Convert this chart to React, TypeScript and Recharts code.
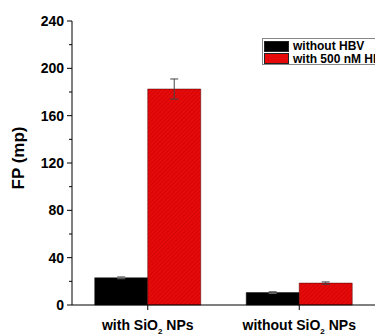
import { BarChart, Bar, XAxis, YAxis, ErrorBar } from "recharts";

const groupPrefix = ["with SiO", "without SiO"];
const groupSuffix = [" NPs", " NPs"];
const withoutHbv = [23, 10.5];
const withoutHbvErr = [0.8, 0.8];
const withHbv = [182.5, 18.5];
const withHbvErr = [8.5, 1];
const yTicks = [0, 20, 40, 60, 80, 100, 120, 140, 160, 180, 200, 220, 240];

const data = groupPrefix.map((p, i) => ({
  name: p + "2" + groupSuffix[i],
  prefix: p,
  suffix: groupSuffix[i],
  a: withoutHbv[i],
  aErr: withoutHbvErr[i],
  b: withHbv[i],
  bErr: withHbvErr[i],
}));

const font = "'Liberation Sans', Arial, sans-serif";

function CategoryTick(props: any) {
  const { x, y, payload, index } = props;
  const d = data[index] || data.find((r) => r.name === payload.value);
  return (
    <g>
      <line x1={x} y1={y - 5} x2={x} y2={y} stroke="#000" />
      <text x={x} y={y + 20} textAnchor="middle" fontFamily={font} fontWeight="bold" fontSize={14} fill="#000">
        <tspan>{d.prefix}</tspan>
        <tspan fontSize={8} dy={4}>2</tspan>
        <tspan dy={-4}>{d.suffix}</tspan>
      </text>
    </g>
  );
}

function ValueTick(props: any) {
  const { x, y, payload } = props;
  const major = payload.value % 40 === 0;
  return (
    <g>
      <line x1={x - (major ? 5 : 3)} y1={y} x2={x} y2={y} stroke="#000" />
      {major && (
        <text x={x - 8} y={y + 5} textAnchor="end" fontFamily={font} fontWeight="bold" fontSize={14} fill="#000">
          {payload.value}
        </text>
      )}
    </g>
  );
}

const legendItems = [
  { label: "without HBV", fill: "#000" },
  { label: "with 500 nM HBV", fill: "#e80a0a" },
];

export default function App() {
  return (
    <div style={{ position: "fixed", left: 0, top: 0, width: 375, height: 335, background: "#fff", overflow: "hidden" }}>
      <BarChart
        width={375}
        height={335}
        data={data}
        margin={{ top: 21, right: 0, left: 0, bottom: 0 }}
        barCategoryGap="15%"
        barGap={0}
      >
        <defs>
          <pattern id="hatchRed" width={3} height={3} patternUnits="userSpaceOnUse" patternTransform="rotate(45)">
            <rect width={3} height={3} fill="#e80a0a" />
            <line x1={0} y1={0} x2={0} y2={3} stroke="#b00000" strokeWidth={0.8} />
          </pattern>
        </defs>
        <XAxis
          dataKey="name"
          height={30}
          axisLine={{ stroke: "#000", strokeWidth: 1 }}
          tickLine={false}
          tickSize={5}
          tickMargin={0}
          tick={<CategoryTick />}
          interval={0}
        />
        <YAxis
          width={72}
          domain={[0, 240]}
          ticks={yTicks}
          interval={0}
          tickSize={0}
          tickMargin={0}
          axisLine={{ stroke: "#000", strokeWidth: 1 }}
          tickLine={false}
          tick={<ValueTick />}
          label={{
            content: () => (
              <text
                x={24}
                y={158}
                transform="rotate(-90, 24, 158)"
                textAnchor="middle"
                fontFamily={font}
                fontWeight="bold"
                fontSize={17}
                fill="#000"
              >
                FP (mp)
              </text>
            ),
          }}
        />
        <Bar dataKey="a" name="without HBV" fill="#000" stroke="#111" strokeWidth={0.5} isAnimationActive={false}>
          <ErrorBar dataKey="aErr" width={4} stroke="#666" strokeWidth={1} />
        </Bar>
        <Bar dataKey="b" name="with 500 nM HBV" fill="url(#hatchRed)" stroke="#400" strokeWidth={0.5} isAnimationActive={false}>
          <ErrorBar dataKey="bErr" width={4} stroke="#444" strokeWidth={1} />
        </Bar>
      </BarChart>
      <div
        style={{
          position: "absolute",
          left: 262,
          top: 38,
          width: 130,
          height: 27,
          border: "1px solid #888",
          background: "#fff",
          boxSizing: "border-box",
          padding: "1px 0 0 1px",
        }}
      >
        {legendItems.map((it) => (
          <div key={it.label} style={{ display: "flex", alignItems: "center", height: 12.5 }}>
            <div style={{ width: 25, height: 11, background: it.fill, border: "0.5px solid #222", boxSizing: "border-box" }} />
            <span
              style={{
                marginLeft: 4,
                fontFamily: font,
                fontWeight: "bold",
                fontSize: 12,
                lineHeight: "12px",
                whiteSpace: "nowrap",
              }}
            >
              {it.label}
            </span>
          </div>
        ))}
      </div>
    </div>
  );
}
